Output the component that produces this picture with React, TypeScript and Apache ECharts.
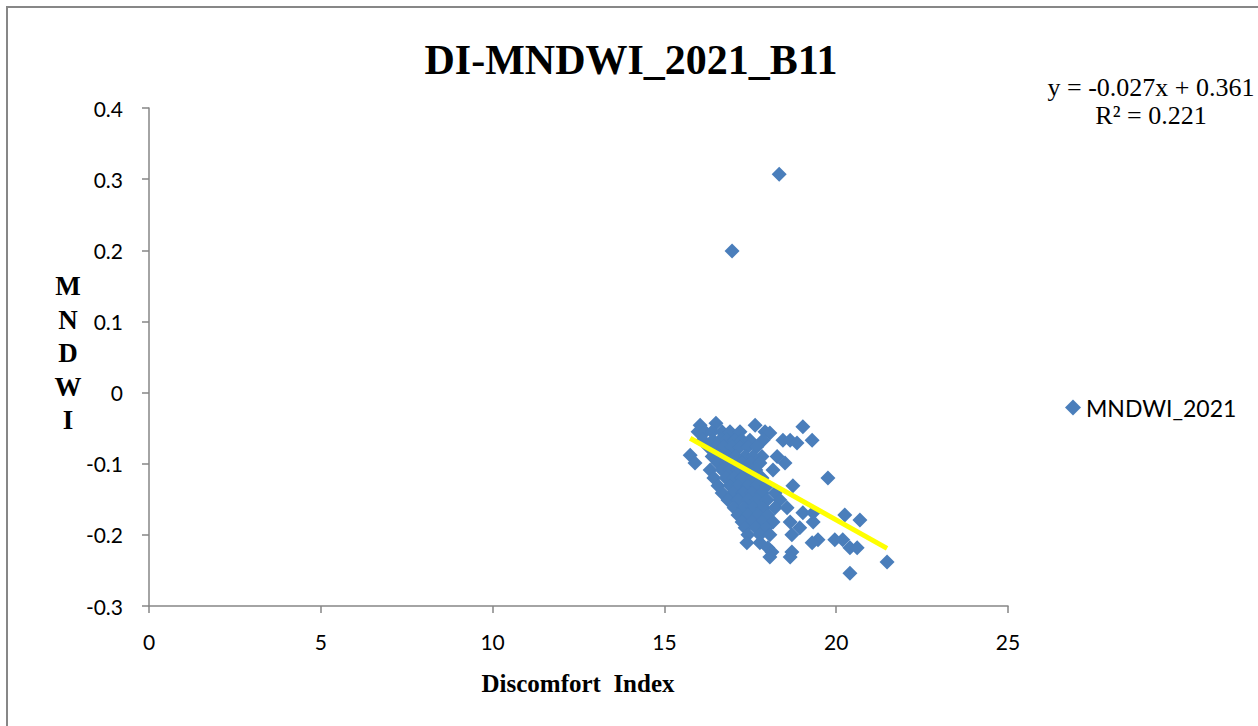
import React, { useEffect, useRef } from "react";
import * as echarts from "echarts";

// Discomfort Index (x) and MNDWI 2021 (y) per sample
const discomfortIndex: number[] = [
  18.34, 16.97,
  16.5,
  16.04, 17.64,
  19.03,
  15.98, 16.18, 16.39, 16.68, 16.91, 17.2, 17.93,
  18.07,
  16.12, 16.41, 16.62, 16.82, 17.05, 17.26, 17.49, 17.87, 18.45, 18.66, 19.3,
  18.86,
  16.27, 16.5, 16.73, 16.97, 17.2, 17.43, 17.69,
  15.75,
  16.39, 16.62, 16.85, 17.08, 17.35, 17.58, 17.84, 18.28,
  15.89, 16.56, 16.79, 17.03, 17.26, 17.52, 17.78, 18.51,
  16.33, 16.68, 16.91, 17.14, 17.4, 17.66, 18.16,
  16.44, 16.79, 17.03, 17.26, 17.55, 17.84, 19.76,
  16.56, 16.91, 17.14, 17.43, 17.69, 17.99, 18.74,
  16.68, 17.0, 17.29, 17.55, 17.84, 18.22,
  16.85, 17.14, 17.43, 17.69, 17.99, 18.36,
  17.03, 17.32, 17.58, 17.87, 18.22, 18.57,
  19.03, 19.33,
  17.14, 17.43, 17.72, 18.01, 20.25,
  20.69,
  17.26, 17.55, 17.84, 18.16, 18.66, 19.33,
  17.35, 17.66, 17.96, 18.94,
  17.43, 17.78, 18.07, 18.71,
  19.47, 19.96, 20.19,
  17.4, 17.78, 19.3,
  18.01, 20.4, 20.61,
  18.13, 18.71,
  18.07, 18.66,
  21.48,
  20.4,
];

const mndwi2021: number[] = [
  0.307, 0.199,
  -0.043,
  -0.046, -0.046,
  -0.048,
  -0.055, -0.055, -0.055, -0.055, -0.055, -0.055, -0.055,
  -0.057,
  -0.067, -0.067, -0.067, -0.067, -0.067, -0.067, -0.067, -0.067, -0.067, -0.067, -0.067,
  -0.071,
  -0.076, -0.076, -0.076, -0.076, -0.076, -0.076, -0.076,
  -0.088,
  -0.09, -0.09, -0.09, -0.09, -0.09, -0.09, -0.09, -0.09,
  -0.099, -0.099, -0.099, -0.099, -0.099, -0.099, -0.099, -0.099,
  -0.109, -0.109, -0.109, -0.109, -0.109, -0.109, -0.109,
  -0.12, -0.12, -0.12, -0.12, -0.12, -0.12, -0.12,
  -0.131, -0.131, -0.131, -0.131, -0.131, -0.131, -0.131,
  -0.141, -0.141, -0.141, -0.141, -0.141, -0.141,
  -0.151, -0.151, -0.151, -0.151, -0.151, -0.151,
  -0.162, -0.162, -0.162, -0.162, -0.162, -0.162,
  -0.169, -0.169,
  -0.172, -0.172, -0.172, -0.172, -0.172,
  -0.179,
  -0.182, -0.182, -0.182, -0.182, -0.182, -0.182,
  -0.19, -0.19, -0.19, -0.19,
  -0.2, -0.2, -0.2, -0.2,
  -0.207, -0.207, -0.207,
  -0.211, -0.211, -0.211,
  -0.218, -0.218, -0.218,
  -0.224, -0.224,
  -0.231, -0.231,
  -0.238,
  -0.254,
];

// Linear trend: y = slope * x + intercept
const trendSlope = -0.027;
const trendIntercept = 0.361;
const trendLabel = ["y = -0.027x + 0.361", "R\u00B2 = 0.221"];

const xTicks = { min: 0, max: 25, interval: 5 };
const yTicks = { min: -0.3, max: 0.4, interval: 0.1 };

const chartTitle = "DI-MNDWI_2021_B11";
const xName = "Discomfort  Index";
const yName = ["M", "N", "D", "W", "I"];
const seriesName = "MNDWI_2021";

export default function App() {
  const ref = useRef<HTMLDivElement>(null);

  useEffect(() => {
    if (!ref.current) return;
    const chart = echarts.init(ref.current, undefined, { renderer: "svg" });

    const points = discomfortIndex.map((x, i) => [x, mndwi2021[i]]);
    const xMin = Math.min(...discomfortIndex);
    const xMax = Math.max(...discomfortIndex);
    const trend = [
      [xMin, trendSlope * xMin + trendIntercept],
      [xMax, trendSlope * xMax + trendIntercept],
    ];

    const axisGray = "#868686";
    const labelFont = "Lato, 'Liberation Sans', sans-serif";
    const serif = "'Liberation Serif', 'Times New Roman', serif";

    chart.setOption({
      animation: false,
      backgroundColor: "#ffffff",
      grid: { left: 149, right: 250, top: 108, bottom: 120, containLabel: false },
      xAxis: {
        type: "value",
        min: xTicks.min,
        max: xTicks.max,
        interval: xTicks.interval,
        splitLine: { show: false },
        axisLine: { show: true, onZero: false, lineStyle: { color: axisGray, width: 1.5 } },
        axisTick: { show: true, length: 7, lineStyle: { color: axisGray, width: 1.5 } },
        axisLabel: { color: "#000", fontSize: 21, fontFamily: labelFont, margin: 25 },
      },
      yAxis: {
        type: "value",
        min: yTicks.min,
        max: yTicks.max,
        interval: yTicks.interval,
        splitLine: { show: false },
        axisLine: { show: true, onZero: false, lineStyle: { color: axisGray, width: 1.5 } },
        axisTick: { show: true, length: 7, lineStyle: { color: axisGray, width: 1.5 } },
        axisLabel: {
          color: "#000",
          fontSize: 21,
          fontFamily: labelFont,
          margin: 26,
          formatter: (v: number) => String(parseFloat(v.toFixed(1))),
        },
      },
      legend: {
        data: [seriesName],
        left: 1060,
        top: 391,
        icon: "diamond",
        itemWidth: 16,
        itemHeight: 16,
        textStyle: { color: "#000", fontSize: 23, fontFamily: labelFont },
      },
      series: [
        {
          name: seriesName,
          type: "scatter",
          data: points,
          symbol: "diamond",
          symbolSize: 15,
          itemStyle: { color: "#4A7EBB", opacity: 1 },
          z: 2,
        },
        {
          name: "trend",
          type: "line",
          data: trend,
          symbol: "none",
          lineStyle: { color: "#FFFF00", width: 5 },
          z: 3,
        },
      ],
      graphic: [
        {
          type: "rect",
          shape: { x: 7, y: 7, width: 1400, height: 900 },
          style: { fill: "none", stroke: "#878787", lineWidth: 2 },
          silent: true,
        },
        {
          type: "text",
          x: 631,
          y: 60,
          style: {
            text: chartTitle,
            fill: "#000",
            font: `bold 42px ${serif}`,
            textAlign: "center",
            textVerticalAlign: "middle",
          },
        },
        {
          type: "text",
          x: 1151,
          y: 87,
          style: {
            text: trendLabel[0],
            fill: "#000",
            font: `26px ${serif}`,
            textAlign: "center",
            textVerticalAlign: "middle",
          },
        },
        {
          type: "text",
          x: 1151,
          y: 115,
          style: {
            text: trendLabel[1],
            fill: "#000",
            font: `26px ${serif}`,
            textAlign: "center",
            textVerticalAlign: "middle",
          },
        },
        {
          type: "text",
          x: 578,
          y: 683,
          style: {
            text: xName,
            fill: "#000",
            font: `bold 25px ${serif}`,
            textAlign: "center",
            textVerticalAlign: "middle",
          },
        },
        {
          type: "text",
          x: 68,
          y: 353,
          style: {
            text: yName.join("\n"),
            fill: "#000",
            font: `bold 27px ${serif}`,
            lineHeight: 33.5,
            textAlign: "center",
            textVerticalAlign: "middle",
          },
        },
      ],
    });

    return () => chart.dispose();
  }, []);

  return (
    <div
      ref={ref}
      style={{ position: "fixed", left: 0, top: 0, width: 1258, height: 726 }}
    />
  );
}
